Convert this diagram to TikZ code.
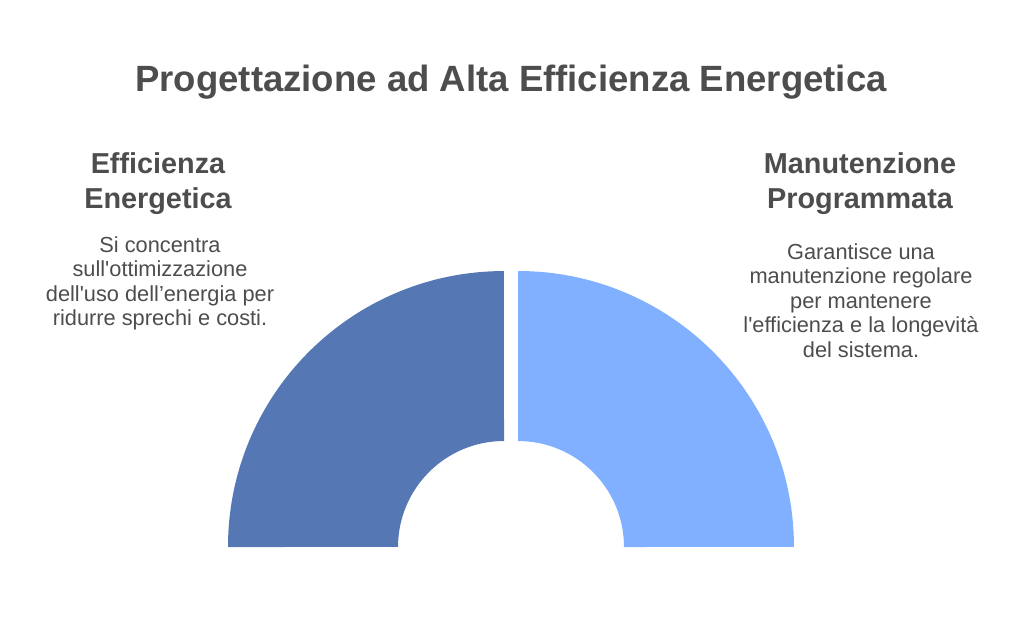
\documentclass[tikz,border=0pt]{standalone}
\usepackage{fontspec}
\setmainfont{Liberation Sans}[Ligatures=TeXOff]
\definecolor{txtgray}{RGB}{77,77,77}
\definecolor{darkblue}{RGB}{85,120,180}
\definecolor{lightblue}{RGB}{128,176,255}

\begin{document}
\begin{tikzpicture}[x=0.02cm,y=0.02cm,
    head/.style={anchor=north,align=center,inner sep=0pt,text=txtgray,font=\fontsize{16.4}{19.8}\selectfont\bfseries},
    body/.style={anchor=north,align=center,inner sep=0pt,text=txtgray,font=\fontsize{12.4}{14}\selectfont}]
            \useasboundingbox (0,0) rectangle (1024,620);
            \fill[darkblue] (228,73) arc[start angle=180,end angle=90,radius=5.52cm]
                --(504,179) arc[start angle=90,end angle=180,radius=2.12cm]--cycle;
            \fill[lightblue] (518,349) arc[start angle=90,end angle=0,radius=5.52cm]
                --(624,73) arc[start angle=0,end angle=90,radius=2.12cm]--cycle;
            \node[text=txtgray,font=\fontsize{20.8}{24}\selectfont\bfseries] (title) at (511,538) {Progettazione ad Alta Efficienza Energetica};
            \node[head] (effhead) at (158,468) {Efficienza\\Energetica};
            \node[body] (effbody) at (160,384) {Si concentra\\sull'ottimizzazione\\dell'uso dell’energia per\\ridurre sprechi e costi.};
            \node[head] (manhead) at (860,468) {Manutenzione\\Programmata};
            \node[body] (manbody) at (861,377) {Garantisce una\\manutenzione regolare\\per mantenere\\l'efficienza e la longevità\\del sistema.};
        \end{tikzpicture}
\end{document}
